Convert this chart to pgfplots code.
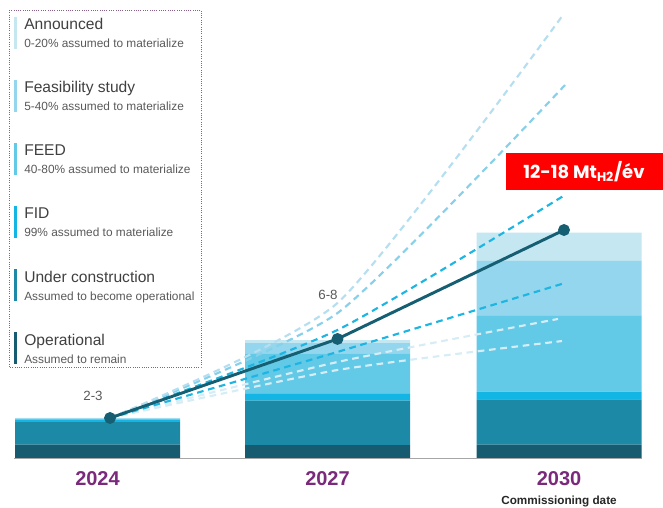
\documentclass[border=0pt]{standalone}
\usepackage{fontspec}
\setmainfont{Liberation Sans}
\newfontfamily\poppins{Poppins}
\usepackage{pgfplots}
\usepackage{pgfplotstable}
\pgfplotsset{compat=1.18}
\definecolor{cOp}{HTML}{165B6F}
\definecolor{cUC}{HTML}{1C89A7}
\definecolor{cFID}{HTML}{12B5E3}
\definecolor{cFEED}{HTML}{62C9E7}
\definecolor{cFeas}{HTML}{93D6ED}
\definecolor{cAnn}{HTML}{C4E7F2}
\definecolor{cLine}{HTML}{165F73}
\definecolor{cPurple}{HTML}{7B2A7B}
\definecolor{cBox}{HTML}{8A5F8A}
\definecolor{cWhiteDash}{HTML}{D6EDF5}
\definecolor{cDashA}{HTML}{B5DFF0}
\definecolor{cDashB}{HTML}{86D0EA}
\definecolor{cDashC}{HTML}{1DB5E2}
\definecolor{cTitle}{HTML}{404040}
\definecolor{cSub}{HTML}{595959}
\definecolor{cRed}{HTML}{FF0000}

% stacked bar layers (Mt H2 / year), bars centred at 97.5, 327.5, 559
\pgfplotstableread{
x     op    uc    fid   feed  feas  ann
97.5  0.83  1.42  0.11  0.08  0.04  0.03
327.5 0.81  2.77  0.46  2.50  0.64  0.19
559   0.83  2.84  0.48  4.73  3.44  1.77
}\bars

\pgfplotsset{base/.style={
  at={(0,0)}, anchor=south west, scale only axis,
  width=497.25pt, height=343.5pt,
  xmin=0, xmax=663, ymin=0, ymax=28.625,
  enlargelimits=false, clip=false,
  axis line style={draw=none}, tick style={draw=none},
  ytick=\empty}}

\begin{document}
\begin{tikzpicture}
\useasboundingbox (0,-36.75pt) rectangle (497.25pt,343.5pt);
\begin{axis}[base, ybar stacked, bar width=165,
  xtick={97.5,327.5,559}, xticklabels={2024,2027,2030},
  xticklabel style={anchor=center, yshift=-15.5pt,
    font=\bfseries\fontsize{15}{15}\selectfont, text=cPurple}]
\addplot[fill=cOp, draw=none] table[x=x,y=op] {\bars};
\addplot[fill=cUC, draw=none] table[x=x,y=uc] {\bars};
\addplot[fill=cFID, draw=none] table[x=x,y=fid] {\bars};
\addplot[fill=cFEED, draw=none] table[x=x,y=feed] {\bars};
\addplot[fill=cFeas, draw=none] table[x=x,y=feas] {\bars};
\addplot[fill=cAnn, draw=none] table[x=x,y=ann] {\bars};
\end{axis}
\begin{axis}[base, xtick=\empty]
\pgfplotsset{dl/.style={smooth, tension=0.35, line width=1.6pt,
  dash pattern=on 5pt off 3.5pt, mark=none}}
\addplot[dl, cWhiteDash] coordinates {(110,2.5) (337.5,5.50) (562,7.31)};
\addplot[dl, cWhiteDash] coordinates {(110,2.5) (337.5,6.00) (558,8.69)};
\addplot[dl, cDashC] coordinates {(110,2.5) (337.5,6.63) (565,10.94)};
\addplot[dl, cDashC] coordinates {(110,2.5) (337.5,8.00) (565,16.44)};
\addplot[dl, cDashB] coordinates {(110,2.5) (337.5,9.06) (565,23.31)};
\addplot[dl, cDashA] coordinates {(110,2.5) (337.5,9.69) (563,27.69)};
\addplot[cLine, line width=2.2pt, mark=*, mark size=3.3pt,
  mark options={fill=cLine, draw=cLine}] coordinates {(110,2.5) (337.5,7.44) (564,14.25)};
\end{axis}
\begin{scope}[x=0.75pt, y=-0.75pt, yshift=343.5pt]
\draw[black!35, line width=0.75pt] (14,458) -- (642,458);
% legend
\draw[cBox, densely dotted, line width=0.7pt] (9,10) rectangle (201,367);
\foreach \i/\c/\t/\s in {
  0/cAnn/Announced/0-20\% assumed to materialize,
  1/cFeas/Feasibility study/5-40\% assumed to materialize,
  2/cFEED/FEED/40-80\% assumed to materialize,
  3/cFID/FID/99\% assumed to materialize,
  4/cUC/Under construction/Assumed to become operational,
  5/cOp/Operational/Assumed to remain}{
  \fill[\c] (14,{17+63*\i}) rectangle (16.6,{49+63*\i});
  \node[anchor=base west, inner sep=0, text=cTitle,
    font=\fontsize{11.7}{12}\selectfont] at (24,{30+63*\i}) {\t};
  \node[anchor=base west, inner sep=0, text=cSub,
    font=\fontsize{8.9}{10}\selectfont] at (24,{48+63*\i}) {\s};
}
\node[text=cSub, font=\fontsize{10}{10}\selectfont] at (93,396) {2-3};
\node[text=cSub, font=\fontsize{10}{10}\selectfont] at (328,295) {6-8};
\fill[cRed] (506,153.5) rectangle (663,190.5);
\node[text=white, font=\poppins\bfseries\fontsize{13.5}{14}\selectfont]
  at (584,172) {12-18 Mt\textsubscript{H2}/év};
\node[text=black!85, font=\bfseries\fontsize{8.8}{9}\selectfont] at (559,501) {Commissioning date};
\end{scope}
\end{tikzpicture}
\end{document}
